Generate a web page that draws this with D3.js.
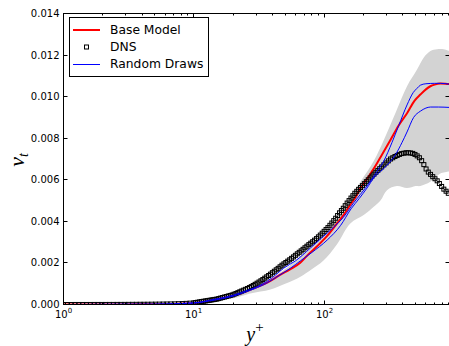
<!DOCTYPE html>
<html><head><meta charset="utf-8">
<script src="https://cdn.jsdelivr.net/npm/d3@7/dist/d3.min.js"></script>
<style>body{margin:0;background:#fff} svg{display:block}</style>
</head><body>
<svg id="c" width="449" height="346"></svg>
<script>
// ---------------- data ----------------
const dnsYPlus = [1.00,1.07,1.145,1.225,1.311,1.403,1.501,1.606,1.718,1.838,1.967,2.105,2.252,2.410,2.579,2.759,2.952,3.159,3.380,3.617,3.870,4.141,4.430,4.741,5.072,5.427,5.807,6.214,6.649,7.114,7.612,8.145,8.715,9.325,
9.978,10.32,10.68,11.05,11.42,11.81,12.22,12.64,13.08,13.53,13.99,14.47,14.97,15.49,16.02,16.57,17.14,17.73,18.34,18.97,19.63,20.30,21.00,21.72,22.47,23.25,24.05,24.88,25.73,26.62,27.53,28.48,29.46,30.47,31.52,32.61,33.73,34.89,36.09,37.33,38.61,39.94,41.32,42.74,44.21,45.73,47.30,48.93,50.61,52.35,54.16,56.02,57.95,59.94,62.00,64.13,66.34,68.62,70.99,73.43,75.96,78.57,81.27,84.07,86.96,89.95,93.05,96.25,99.56,103.0,106.5,110.2,114.0,117.9,122.0,126.2,130.5,135.0,139.6,144.4,149.4,154.6,159.9,165.4,171.1,177.0,183.0,189.3,195.8,202.5,209.5,216.7,224.2,231.9,239.9,248.2,256.7,265.5,
274.7,285.7,297.1,309.0,321.4,334.2,347.6,361.5,375.9,391.0,406.6,422.9,439.8,457.4,475.7,494.7,514.5,535.1,556.5,578.7,601.9,626.0,651.0,677.0,704.1,732.3,761.6,792.0,823.7,856.7,890.9];
const dnsNut = [0,0,0,0.000001,0.000001,0.000001,0.000001,0.000001,0.000002,0.000002,0.000002,0.000002,0.000003,0.000003,0.000004,0.000004,0.000005,0.000006,0.000007,0.000008,0.000010,0.000011,0.000012,0.000014,0.000016,0.000018,0.000021,0.000024,0.000027,0.000031,0.000038,0.000045,0.000054,0.000065,
0.00008,0.000095,0.00011,0.000125,0.00014,0.000155,0.00017,0.000185,0.00020,0.000215,0.00023,0.000245,0.00026,0.000285,0.00031,0.000335,0.00036,0.000385,0.00041,0.000435,0.00046,0.000495,0.00053,0.00057,0.00061,0.00065,0.00069,0.00073,0.00077,0.000815,0.00086,0.000915,0.00097,0.001025,0.00108,0.00114,0.00120,0.001265,0.00133,0.001395,0.00146,0.00153,0.00160,0.00167,0.00174,0.001815,0.00189,0.001955,0.00202,0.002085,0.00215,0.00222,0.00229,0.002365,0.00244,0.00251,0.00258,0.002655,0.00273,0.002805,0.00288,0.00295,0.00302,0.003095,0.00317,0.003255,0.00334,0.00343,0.00352,0.00361,0.00370,0.00381,0.00392,0.004035,0.00415,0.00428,0.00441,0.00452,0.00463,0.004755,0.00488,0.00500,0.00512,0.005235,0.00535,0.005445,0.00554,0.00563,0.00572,0.005815,0.00591,0.00600,0.00609,0.00618,0.00627,0.00636,0.00645,0.006535,
0.00662,0.00672,0.00681,0.00691,0.00700,0.00706,0.00712,0.00717,0.00722,0.00726,0.00728,0.00730,0.00730,0.00729,0.00727,0.00722,0.00715,0.00706,0.00692,0.00673,0.00652,0.00637,0.00626,0.00615,0.00605,0.00595,0.00582,0.00568,0.00555,0.00545,0.00535];

const baseYPlus = [1,2,3,5,7,10,14.1,18,22.7,28,34.1,38.6,45,54.9,65,75,87.9,105,125,140,158,175,189,210,237,270,320,370,430,490,544,600,649,700,774,850,910];
const baseNut   = [0,0.000002,0.000005,0.000015,0.00003,0.00007,0.00022,0.00036,0.00053,0.00075,0.00097,0.00114,0.0014,0.0017,0.0020,0.0024,0.0028,0.0033,0.0039,0.0043,0.0048,0.0052,0.0056,0.0060,0.0065,0.0071,0.0079,0.0086,0.0092,0.0098,0.0101,0.01035,0.0105,0.01058,0.01063,0.01062,0.0106];

const draw1YPlus = [1,5,10,14,20,25,32.3,40,48.8,60,78.2,95,117,140,168,212,253,285,330,371,430,480,513,544,600,700,774,910];
const draw1Nut   = [0,0.000015,0.00008,0.00024,0.00045,0.00066,0.00093,0.0013,0.00175,0.0021,0.00272,0.0032,0.0037,0.0042,0.0049,0.0057,0.0064,0.0069,0.0078,0.0086,0.0096,0.0102,0.0104,0.01055,0.01062,0.01064,0.01064,0.0106];

const draw2YPlus = [1,5,10,14,20,27,35,45,55,65.5,80,105,133,160,185,212,240,269,302,350,394,430,483,544,600,649,750,910];
const draw2Nut   = [0,0.000013,0.00007,0.0002,0.0004,0.00068,0.00098,0.0014,0.00175,0.0021,0.0025,0.0031,0.0038,0.0046,0.0051,0.0056,0.0061,0.0064,0.0067,0.0072,0.0078,0.0083,0.0090,0.0093,0.00945,0.0095,0.0095,0.00948];

const bandUpperYPlus = [1,5,10,14,20,27,35,45,55,70,90,110,133,149,189,239,285,350,430,513,580,650,730,820,910];
const bandUpperNut   = [0,0.000016,0.00009,0.00025,0.00047,0.0008,0.0011,0.0015,0.0019,0.0025,0.0031,0.0036,0.0043,0.0049,0.0059,0.0069,0.0079,0.0092,0.0105,0.0113,0.0119,0.0122,0.01228,0.01228,0.0122];
const bandLowerYPlus = [1,5,10,14,20,27,38.6,50,65.5,80,98,125,158,200,239,269,302,360,430,500,544,649,774,910];
const bandLowerNut   = [0,0.00001,0.00005,0.00014,0.0003,0.00053,0.00072,0.001,0.00134,0.0017,0.0021,0.0029,0.0039,0.0043,0.0047,0.0050,0.0055,0.0057,0.0056,0.0057,0.0057,0.0059,0.0063,0.0064];

const yTicks = [0,0.002,0.004,0.006,0.008,0.010,0.012,0.014];
const xTickExps = [0,1,2];
const legendLabels = ["Base Model","DNS","Random Draws"];

// ---------------- drawing ----------------
const svg = d3.select("#c");
const L = 63.5, R = 449.5, T = 13.5, B = 304.5;
const x = d3.scaleLog().domain([1, 910]).range([L, R]);
const y = d3.scaleLinear().domain([0, 0.014]).range([B, T]);

svg.append("defs").append("clipPath").attr("id","clip")
  .append("rect").attr("x",L).attr("y",T).attr("width",R-L).attr("height",B-T);
const plot = svg.append("g").attr("clip-path","url(#clip)");

const zip = (a,b)=>a.map((v,i)=>[x(v), y(b[i])]);
const smooth = d3.line().curve(d3.curveMonotoneX);

// band
const up = zip(bandUpperYPlus, bandUpperNut);
const lo = zip(bandLowerYPlus, bandLowerNut).reverse();
const cr = d3.line().curve(d3.curveCatmullRom.alpha(0.5));
const bandPath = cr(up) + "L" + cr(lo).slice(1) + "Z";
plot.append("path").attr("d", bandPath).attr("fill","#d3d3d3").attr("stroke","none");

// base model
plot.append("path").attr("d", smooth(zip(baseYPlus, baseNut)))
  .attr("fill","none").attr("stroke","#ff0000").attr("stroke-width",2);

// DNS
plot.append("g").selectAll("rect").data(dnsYPlus.map((v,i)=>[v,dnsNut[i]])).join("rect")
  .attr("x", d=>x(d[0])-2).attr("y", d=>y(d[1])-2).attr("width",4).attr("height",4)
  .attr("fill","none").attr("stroke","#000").attr("stroke-width",1);

// random draws
[[draw1YPlus,draw1Nut],[draw2YPlus,draw2Nut]].forEach(([a,b])=>{
  plot.append("path").attr("d", smooth(zip(a,b)))
    .attr("fill","none").attr("stroke","#0000ff").attr("stroke-width",1);
});

// axes frame
const ax = svg.append("g").attr("stroke","#000").attr("stroke-width",1);
ax.append("rect").attr("x",L).attr("y",T).attr("width",R-L).attr("height",B-T).attr("fill","none");

// y ticks
yTicks.forEach(t=>{
  const py = Math.round(y(t)-0.5)+0.5;
  ax.append("line").attr("x1",L).attr("x2",L+4).attr("y1",py).attr("y2",py);
  ax.append("line").attr("x1",R-4).attr("x2",R).attr("y1",py).attr("y2",py);
  svg.append("text").attr("x",L-4).attr("y",py).attr("dy","0.35em")
    .attr("text-anchor","end").attr("font-family","DejaVu Sans").attr("font-size",10)
    .attr("fill","#000").text(d3.format(".3f")(t));
});

// x ticks major
xTickExps.forEach(e=>{
  const px = Math.round(x(Math.pow(10,e))-0.5)+0.5;
  ax.append("line").attr("x1",px).attr("x2",px).attr("y1",B).attr("y2",B-4);
  ax.append("line").attr("x1",px).attr("x2",px).attr("y1",T).attr("y2",T+4);
  const tx = svg.append("text").attr("x",px).attr("y",318).attr("text-anchor","middle")
    .attr("font-family","DejaVu Sans").attr("font-size",10).attr("fill","#000");
  tx.append("tspan").text("10");
  tx.append("tspan").attr("dy",-5).attr("font-size",7).text(String(e));
});
// minor ticks
[1,10,100].forEach(d=>{
  for(let m=2;m<=9;m++){
    const v=d*m; if(v>910) continue;
    const px = Math.round(x(v)-0.5)+0.5;
    ax.append("line").attr("x1",px).attr("x2",px).attr("y1",B).attr("y2",B-2);
    ax.append("line").attr("x1",px).attr("x2",px).attr("y1",T).attr("y2",T+2);
  }
});

// axis labels
svg.append("text").attr("x",255).attr("y",341).attr("text-anchor","middle")
  .attr("font-family","Liberation Serif").attr("font-style","italic").attr("font-size",20).attr("fill","#000")
  .call(t=>{ t.append("tspan").text("y"); t.append("tspan").attr("dy",-9).attr("font-size",15).attr("font-style","normal").text("+"); });
svg.append("text").attr("transform","translate(24,160) rotate(-90)").attr("text-anchor","middle")
  .attr("font-family","Liberation Serif").attr("font-style","italic").attr("font-size",22).attr("fill","#000")
  .call(t=>{ t.append("tspan").text("ν"); t.append("tspan").attr("dy",4).attr("font-size",14).text("t"); });

// legend
const lg = svg.append("g");
lg.append("rect").attr("x",69.5).attr("y",17.5).attr("width",139).attr("height",59)
  .attr("fill","#fff").attr("stroke","#000").attr("stroke-width",1);
const rows=[30,47,64];
lg.append("line").attr("x1",73).attr("x2",100).attr("y1",rows[0]).attr("y2",rows[0]).attr("stroke","#ff0000").attr("stroke-width",2);
lg.append("rect").attr("x",84.5).attr("y",rows[1]-2).attr("width",4).attr("height",4).attr("fill","none").attr("stroke","#000");
lg.append("line").attr("x1",73).attr("x2",100).attr("y1",rows[2]+0.5).attr("y2",rows[2]+0.5).attr("stroke","#0000ff").attr("stroke-width",1);
legendLabels.forEach((s,i)=>{
  lg.append("text").attr("x",110).attr("y",rows[i]).attr("dy","0.36em")
    .attr("font-family","DejaVu Sans").attr("font-size",12.3).attr("fill","#000").text(s);
});
</script>
</body></html>
